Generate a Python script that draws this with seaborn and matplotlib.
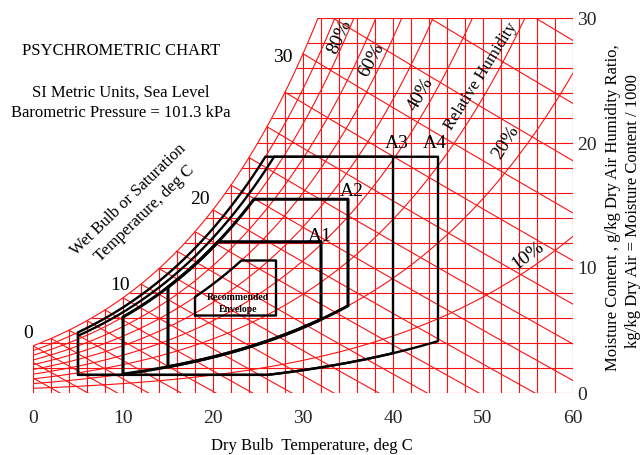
import numpy as np
import pandas as pd
import matplotlib
matplotlib.use("Agg")
import matplotlib.pyplot as plt
import seaborn as sns

# grid of the chart
dry_bulb_grid = list(range(0, 61, 2))          # deg C, vertical lines
moisture_grid = list(range(0, 31, 2))          # g/kg, horizontal lines
rh_levels = [0.1, 0.2, 0.3, 0.4, 0.5, 0.6, 0.7, 0.8, 0.9, 1.0]
wet_bulb_levels = list(range(-4, 37, 2))       # deg C
x_ticks = [0, 10, 20, 30, 40, 50, 60]
y_ticks = [0, 10, 20, 30]
wb_labels = ["0", "10", "20", "30"]
rh_labels = ["80%", "60%", "40%", "20%", "10%"]

# ASHRAE classes
env_names = ["A1", "A2", "A3", "A4", "Recommended"]
env_t_min = [15, 10, 5, 5, 18]
env_t_max = [32, 35, 40, 45, 27]
env_rh_low = [0.20, 0.20, 0.07, 0.07, 0.0]
env_w_min = [0.0, 0.0, 1.45, 1.45, 6.2]
env_rh_high = [0.80, 0.80, 0.85, 0.90, 0.60]
env_w_max = [12.1, 15.5, 18.9, 18.9, 10.6]

P = 101.325


def p_sat(t):
    return 0.61094 * np.exp(17.625 * t / (t + 243.04))


def w_rh(t, rh):
    ps = rh * p_sat(t)
    return 622.0 * ps / (P - ps)


def t_rh(w, rh):
    pv = w * P / (622.0 + w) / rh
    a = np.log(pv / 0.61094)
    return 243.04 * a / (17.625 - a)


def w_wet(t, twb):
    ws = w_rh(twb, 1.0) / 1000.0
    w = ((2501 - 2.326 * twb) * ws - 1.006 * (t - twb)) / (2501 + 1.86 * t - 4.186 * twb)
    return w * 1000.0


# red background lines
parts = []
n = 0
for t in dry_bulb_grid:
    top = min(w_rh(t, 1.0), 30)
    parts.append(pd.DataFrame({"t": [t, t], "w": [0, top], "line": n}))
    n += 1
for w in moisture_grid:
    start = t_rh(w, 1.0) if w > w_rh(0, 1.0) else 0
    parts.append(pd.DataFrame({"t": [start, 60], "w": [w, w], "line": n}))
    n += 1
for rh in rh_levels:
    ts = np.linspace(0, 60, 400)
    parts.append(pd.DataFrame({"t": ts, "w": w_rh(ts, rh), "line": n}))
    n += 1
for twb in wet_bulb_levels:
    ts = np.linspace(max(twb, 0), 60, 200)
    parts.append(pd.DataFrame({"t": ts, "w": w_wet(ts, twb), "line": n}))
    n += 1
grid_df = pd.concat(parts, ignore_index=True)

sns.set_theme(style="white")
plt.rcParams["font.family"] = ["Liberation Serif", "DejaVu Serif"]

fig = plt.figure(figsize=(6.41, 4.55), dpi=100)
ax = fig.add_axes([33 / 641, 1 - 393 / 455, 540 / 641, 375 / 455])

sns.lineplot(data=grid_df, x="t", y="w", units="line", estimator=None, sort=False,
             color="#ff1010", lw=0.8, legend=False, ax=ax)

# black envelopes
for i, name in enumerate(env_names):
    t0, t1 = env_t_min[i], env_t_max[i]
    ts = np.linspace(t0, t1, 150)
    low = np.maximum(w_rh(ts, env_rh_low[i]) if env_rh_low[i] > 0 else 0 * ts, env_w_min[i])
    t_top = t_rh(env_w_max[i], env_rh_high[i])
    ts2 = np.linspace(t0, t_top, 150)
    hi = w_rh(ts2, env_rh_high[i])
    x = np.concatenate([ts, [t1, t_top], ts2[::-1], [t0]])
    y = np.concatenate([low, [env_w_max[i], env_w_max[i]], hi[::-1], [low[0]]])
    lw = 2.2 if name in ("A1", "A2") else 1.7
    sns.lineplot(x=x, y=y, sort=False, estimator=None, color="black", lw=lw, ax=ax)

ax.set_xlim(0, 60)
ax.set_ylim(0, 30)
for s in ax.spines.values():
    s.set_visible(False)
ax.grid(False)
ax.set_xlabel("")
ax.set_ylabel("")
ax.set_xticks(x_ticks)
ax.set_xticklabels([str(v) for v in x_ticks], fontsize=14)
ax.yaxis.tick_right()
ax.set_yticks(y_ticks)
ax.set_yticklabels([str(v) for v in y_ticks], fontsize=14)
ax.tick_params(axis="x", length=0, pad=12)
ax.tick_params(axis="y", length=0, pad=3)


def px(x, y):
    return x / 641, 1 - y / 455


def label(x, y, s, **kw):
    fig.text(*px(x, y), s, ha="center", va="center", color="black", **kw)


label(121, 51, "PSYCHROMETRIC CHART", fontsize=12)
label(121, 93, "SI Metric Units, Sea Level", fontsize=12)
label(121, 113, "Barometric Pressure = 101.3 kPa", fontsize=12)
label(128, 200, "Wet Bulb or Saturation", fontsize=12, rotation=44)
label(145, 214, "Temperature, deg C", fontsize=12, rotation=44)

for s, (x, y) in zip(wb_labels, [(28, 333), (120, 285), (200, 200), (283, 57)]):
    label(x, y, s, fontsize=14)

rh_pos = [(340, 37, 65), (372, 60, 62), (421, 94, 60), (506, 142, 58), (528, 256, 37)]
for s, (x, y, r) in zip(rh_labels, rh_pos):
    label(x, y, s, fontsize=14, rotation=r)
label(481, 76, "Relative Humidity", fontsize=12, rotation=58)

for s, (x, y) in zip(env_names[:4], [(320, 236), (352, 191), (397, 143), (435, 143)]):
    label(x, y, s, fontsize=14)
label(238, 297, "Recommended", fontsize=7, fontweight="bold")
label(238, 309, "Envelope", fontsize=7, fontweight="bold")

label(312, 446, "Dry Bulb  Temperature, deg C", fontsize=12)
label(613, 208, "Moisture Content , g/kg Dry Air Humidity Ratio,", fontsize=12, rotation=90)
label(633, 211, "kg/kg Dry Air = Moisture Content / 1000", fontsize=12, rotation=90)

fig.savefig("out.png", dpi=100, facecolor="white")
